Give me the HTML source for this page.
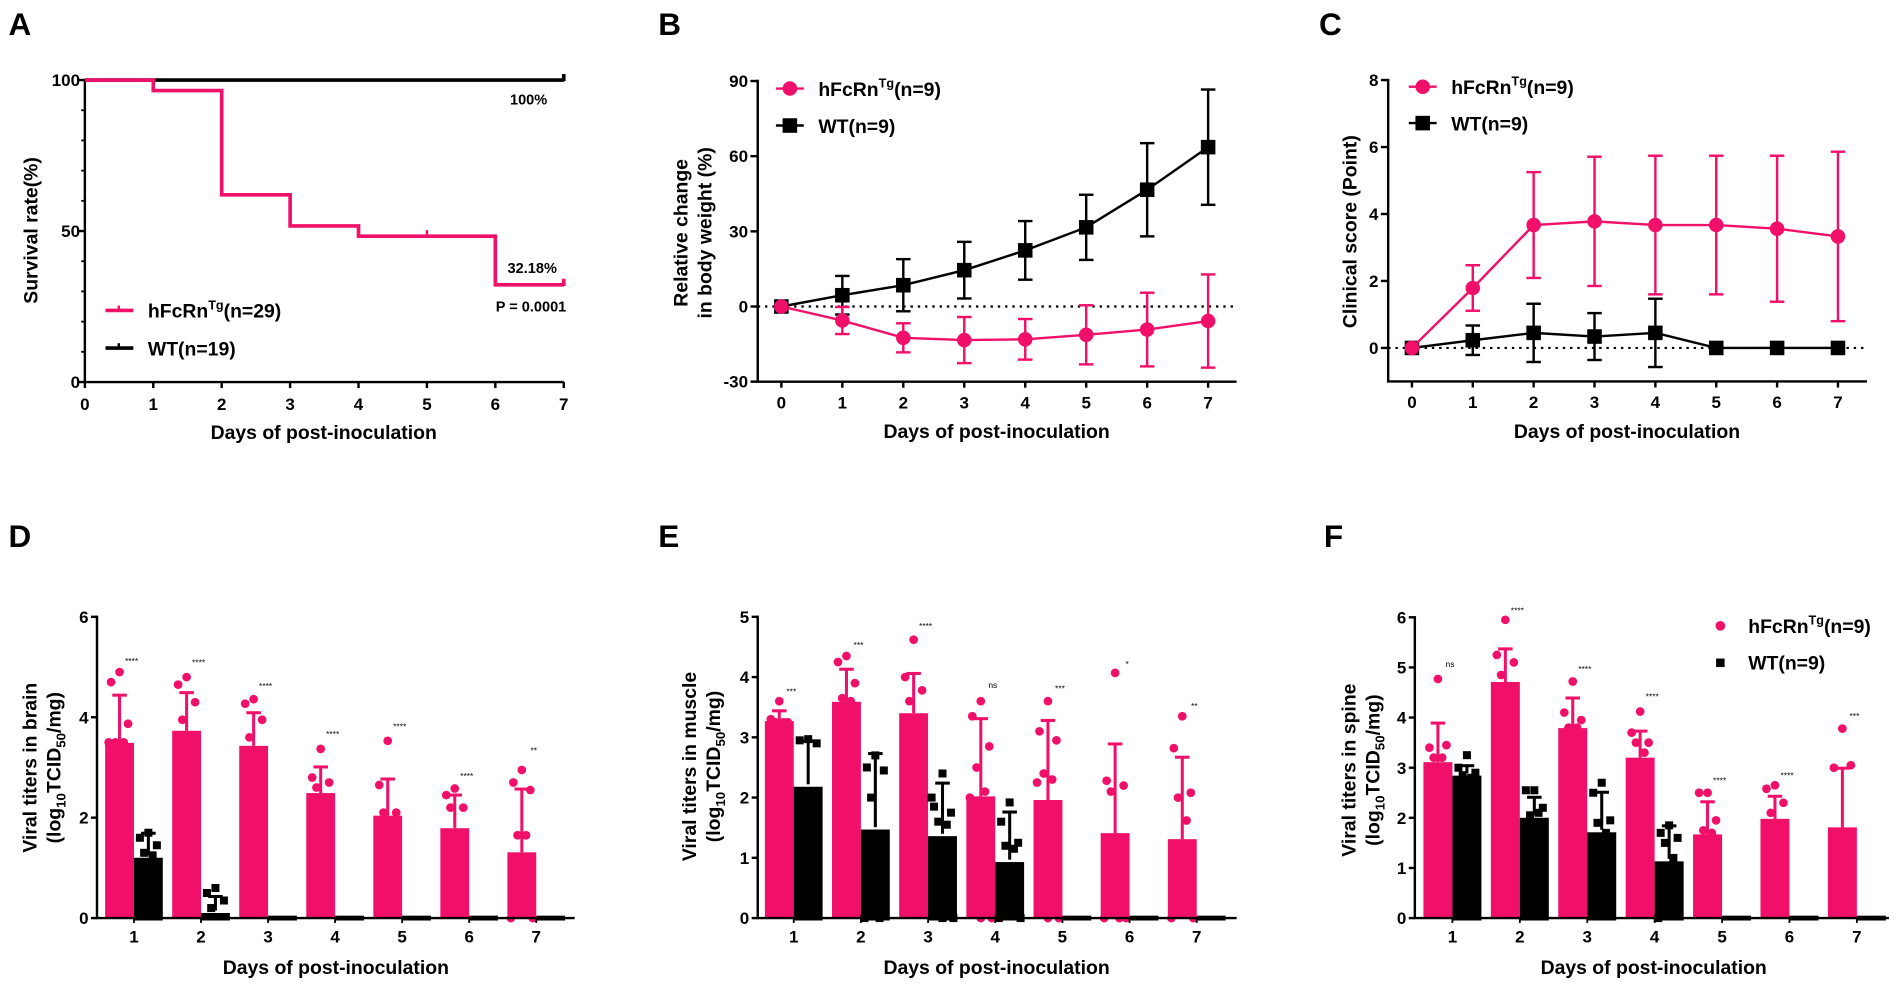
<!DOCTYPE html>
<html><head><meta charset="utf-8"><style>
html,body{margin:0;padding:0;background:#fff;}
svg{display:block;font-family:"Liberation Sans",Arial,sans-serif;font-weight:bold;}
</style></head><body>
<svg id="fig" width="1901" height="986" viewBox="0 0 1568 813" preserveAspectRatio="none" xmlns="http://www.w3.org/2000/svg"></svg>
<script>
// ===== Panel A data =====
const aDays = [0,1,2,3,4,5,6,7];
const aPinkSteps = [100,96.5,62,51.7,48.3,48.3,32.18];
const aWTSteps = [100,100,100,100,100,100,100];
const aYTicks = [0,50,100];
// ===== Panel B data =====
const bDays = [0,1,2,3,4,5,6,7];
const bWT = [0,4.5,8.5,14.5,22.4,31.6,46.6,63.6];
const bWTErr = [0,7.7,10.4,11.3,11.7,13,18.6,23];
const bPink = [0,-5.6,-12.5,-13.4,-13.1,-11.3,-9.2,-5.8];
const bPinkErr = [0,5.4,5.8,9.2,8.1,11.8,14.7,18.6];
const bYTicks = [-30,0,30,60,90];
// ===== Panel C data =====
const cDays = [0,1,2,3,4,5,6,7];
const cPink = [0,1.79,3.67,3.78,3.67,3.67,3.56,3.33];
const cPinkErr = [0,0.68,1.58,1.93,2.07,2.07,2.18,2.53];
const cWT = [0,0.23,0.45,0.34,0.45,0,0,0];
const cWTErr = [0,0.44,0.87,0.7,1.02,0,0,0];
const cYTicks = [0,2,4,6,8];
// ===== Panel D data =====
const dCats = ["1","2","3","4","5","6","7"];
const dPink = [3.49,3.73,3.43,2.49,2.04,1.79,1.31];
const dPinkSD = [0.95,0.76,0.66,0.52,0.73,0.66,1.26];
const dWT = [1.25,0.15,0,0,0,0,0];
const dWTSD = [0.44,0.28,0,0,0,0,0];
const dSig = ["****","****","****","****","****","****","**"];
const dSigY = [5.13,5.1,4.63,3.68,3.83,2.84,3.35];
const dPinkPts = [[4.9,4.7,3.87,3.5,3.5,3.5],[4.8,4.65,4.3,3.95],[4.36,4.27,3.95,3.6],[3.37,2.8,2.7,2.6],[3.53,2.65,2.1,2.1],[2.58,2.45,2.2,2.2],[2.95,2.7,2.55,1.65,1.65,0,0]];
const dWTPts = [[1.7,1.6,1.45,1.3,1.25],[0.6,0.5,0.35,0.2],[],[],[],[],[]];
const dYTicks = [0,2,4,6];
// ===== Panel E data =====
const eCats = ["1","2","3","4","5","6","7"];
const ePink = [3.27,3.59,3.4,2.02,1.96,1.41,1.31];
const ePinkSD = [0.17,0.54,0.66,1.29,1.32,1.48,1.36];
const eWT = [2.22,1.51,1.4,0.97,0,0,0];
const eWTSD = [0.72,1.22,0.84,0.79,0,0,0];
const eSig = ["***","***","****","ns","***","*","**"];
const eSigY = [3.77,4.54,4.86,3.88,3.82,4.23,3.53];
const ePinkPts = [[3.6,3.3,3.25,3.25,3.25],[4.35,4.25,3.9,3.65,3.6],[4.62,4.0,3.78,3.6],[3.6,3.35,2.85,2.5,2.1,2.0,0,0],[3.6,3.1,2.95,2.4,2.3,2.25,0,0],[4.07,2.28,2.2,2.1,0,0,0],[3.35,2.82,2.08,2.0,1.62,0,0]];
const eWTPts = [[2.97,2.95,2.9],[2.7,2.5,2.45,2.0,0,0],[2.4,1.85,1.75,1.6,1.55,2.0,0,0],[1.92,1.6,1.25,1.2,1.15,0,0],[],[],[]];
const eYTicks = [0,1,2,3,4,5];
// ===== Panel F data =====
const fCats = ["1","2","3","4","5","6","7"];
const fPink = [3.11,4.71,3.79,3.2,1.67,1.98,1.81];
const fPinkSD = [0.78,0.66,0.6,0.53,0.65,0.45,1.18];
const fWT = [2.89,2.05,1.76,1.18,0,0,0];
const fWTSD = [0.15,0.36,0.75,0.66,0,0,0];
const fSig = ["ns","****","****","****","****","****","***"];
const fSigY = [5.08,6.15,4.98,4.43,2.76,2.86,4.04];
const fPinkPts = [[4.77,3.4,3.45,3.2,3.2],[5.95,5.25,5.1,4.85],[4.72,4.1,3.95,3.8,3.8],[4.12,3.7,3.5,3.5,3.3],[2.5,2.5,1.95,1.75,1.7],[2.65,2.58,2.3,2.1],[3.78,3.0,3.05]];
const fWTPts = [[3.25,3.0,2.9,2.85,2.8],[2.55,2.55,2.2,2.05,2.1],[2.7,2.5,1.95,1.9,1.7],[1.85,1.7,1.6,1.5,1.2,0],[],[],[]];
const fYTicks = [0,1,2,3,4,5,6];

const PINK = "#f0106a";
const NS = "http://www.w3.org/2000/svg";
const svg = document.getElementById("fig");

function mk(tag, parent, attrs){
  const el = document.createElementNS(NS, tag);
  for (const k in attrs) el.setAttribute(k, attrs[k]);
  (parent||svg).appendChild(el);
  return el;
}
function txt(parent, x, y, s, size, anchor, name){
  const t = mk("text", parent, {x:x, y:y, "font-size":size, "text-anchor":anchor||"middle", fill:"#000"});
  t.textContent = s;
  
  
  return t;
}
function line(parent, x1,y1,x2,y2,color,w,name,dash){
  const l = mk("line", parent, {x1:x1,y1:y1,x2:x2,y2:y2,stroke:color,"stroke-width":w});
  if (dash) l.setAttribute("stroke-dasharray", dash);
  
  
  return l;
}
function group(name){
  const g = mk("g", svg, {});
  
  
  return g;
}
function panelLetter(g, x, y, s){
  txt(g, x, y, s, 26, "start", "panel-label-" + s.toLowerCase());
}
function rotTitle(g, x, y, s, size, name){
  const t = txt(g, x, y, s, size, "middle", name);
  t.setAttribute("transform", "rotate(-90 " + x + " " + y + ")");
  return t;
}
function rotTitleSub(g, x, y, name){
  const t = mk("text", g, {x:x, y:y, "font-size":16, "text-anchor":"middle", transform:"rotate(-90 "+x+" "+y+")"});
  
  
  const parts = [["(log",0],["10",1],["TCID",0],["50",1],["/mg)",0]];
  parts.forEach(p=>{
    const ts = mk("tspan", t, {});
    ts.textContent = p[0];
    if (p[1]) { ts.setAttribute("font-size", 11); ts.setAttribute("dy", 4); }
    else if (ts.previousSibling) { ts.setAttribute("dy", -4); }
  });
}
function legendText(g, x, y, label, sup, rest, size, name){
  const t = mk("text", g, {x:x, y:y, "font-size":size, "text-anchor":"start"});
  
  
  const a = mk("tspan", t, {}); a.textContent = label;
  if (sup){
    const b = mk("tspan", t, {"font-size": size*0.65, dy: -7}); b.textContent = sup;
    const c = mk("tspan", t, {dy: 7}); c.textContent = rest;
  }
}

// ================= Panel A =================
(function(){
  const g = group("panel-a-survival");
  panelLetter(g, 7, 29, "A");
  const x = d => 70 + d*(465-70)/7;
  const y = v => 315 - v*(315-66)/100;
  line(g, x(0), y(0), x(0), y(100)-1, "#000", 2, "y-axis");
  line(g, x(0)-1, y(0), x(7), y(0), "#000", 2, "x-axis");
  for (let v=10; v<100; v+=10){ line(g, x(0)-3, y(v), x(0), y(v), "#000", 1.5, "y-minor-tick"); }
  aYTicks.forEach(v=>{ line(g, x(0)-6, y(v), x(0), y(v), "#000", 2, "y-tick"); txt(g, x(0)-4, y(v)+5, String(v), 14, "end", "y-tick-label"); });
  aDays.forEach(d=>{ line(g, x(d), y(0), x(d), y(0)+5, "#000", 2, "x-tick"); txt(g, x(d), y(0)+23, String(d), 14, "middle", "x-tick-label"); });
  function steps(vals){
    let p = "M" + x(0) + "," + y(vals[0]);
    for (let i=0;i<vals.length;i++){
      p += " H" + x(i+1);
      if (i+1 < vals.length) p += " V" + y(vals[i+1]);
    }
    return p;
  }
  const w = mk("path", g, {d: steps(aWTSteps), fill:"none", stroke:"#000", "stroke-width":3});
  
  
  line(g, x(7), y(aWTSteps[6])-5, x(7), y(aWTSteps[6])+1, "#000", 3, "wt-censor-tick");
  const p = mk("path", g, {d: steps(aPinkSteps), fill:"none", stroke:PINK, "stroke-width":3});
  
  
  line(g, x(5), y(aPinkSteps[4])-5, x(5), y(aPinkSteps[4]), PINK, 2, "hfcrn-censor-tick");
  line(g, x(7), y(aPinkSteps[6])-5, x(7), y(aPinkSteps[6])+1, PINK, 3, "hfcrn-censor-tick");
  txt(g, 436, 86, "100%", 12, "middle", "wt-survival-annotation");
  txt(g, 439, 225, "32.18%", 12, "middle", "hfcrn-survival-annotation");
  txt(g, 438, 257, "P = 0.0001", 12, "middle", "p-value-annotation");
  line(g, 87, 256, 110, 256, PINK, 3, "legend-hfcrn-line");
  line(g, 98, 252, 98, 256, PINK, 2, "legend-hfcrn-tick");
  legendText(g, 122, 262, "hFcRn", "Tg", "(n=29)", 16, "legend-hfcrn-label");
  line(g, 87, 287, 110, 287, "#000", 3, "legend-wt-line");
  line(g, 98, 283, 98, 287, "#000", 2, "legend-wt-tick");
  legendText(g, 122, 293, "WT(n=19)", null, null, 16, "legend-wt-label");
  rotTitle(g, 31, 190, "Survival rate(%)", 16, "y-axis-title");
  txt(g, 267, 362, "Days of post-inoculation", 16, "middle", "x-axis-title");
})();

// ================= Line panels B, C =================
function linePanel(cfg){
  const g = group(cfg.name);
  panelLetter(g, cfg.letterX, 29, cfg.letter);
  const x = d => cfg.x0 + d*(cfg.x7-cfg.x0)/7;
  const y = v => cfg.yb - (v-cfg.ymin)*(cfg.yb-cfg.yt)/(cfg.ymax-cfg.ymin);
  line(g, cfg.ax, y(cfg.ymin), cfg.ax, y(cfg.ymax)-1, "#000", 2, "y-axis");
  line(g, cfg.ax-1, y(cfg.ymin), cfg.axEnd, y(cfg.ymin), "#000", 2, "x-axis");
  cfg.yTicks.forEach(v=>{ line(g, cfg.ax-6, y(v), cfg.ax, y(v), "#000", 2, "y-tick"); txt(g, cfg.ax-8, y(v)+5, String(v), 14, "end", "y-tick-label"); });
  cfg.days.forEach(d=>{ line(g, x(d), y(cfg.ymin), x(d), y(cfg.ymin)+5, "#000", 2, "x-tick"); txt(g, x(d), y(cfg.ymin)+22, String(d), 14, "middle", "x-tick-label"); });
  line(g, cfg.ax, y(0), cfg.axEnd, y(0), "#000", 1.8, "zero-reference-line", "2,4");
  function series(vals, errs, color, marker, nm){
    const sg = mk("g", g, {});
    
    
    vals.forEach((v,i)=>{
      if (errs[i] > 0){
        line(sg, x(cfg.days[i]), y(v+errs[i]), x(cfg.days[i]), y(v-errs[i]), color, 2, nm + "-error-bar");
        line(sg, x(cfg.days[i])-6, y(v+errs[i]), x(cfg.days[i])+6, y(v+errs[i]), color, 2, nm + "-error-cap");
        line(sg, x(cfg.days[i])-6, y(v-errs[i]), x(cfg.days[i])+6, y(v-errs[i]), color, 2, nm + "-error-cap");
      }
    });
    const pts = vals.map((v,i)=> x(cfg.days[i]) + "," + y(v)).join(" ");
    const pl = mk("polyline", sg, {points: pts, fill:"none", stroke:color, "stroke-width":2});
    
    
    vals.forEach((v,i)=>{
      let m;
      if (marker === "circle") m = mk("circle", sg, {cx:x(cfg.days[i]), cy:y(v), r:6, fill:color});
      else m = mk("rect", sg, {x:x(cfg.days[i])-6, y:y(v)-6, width:12, height:12, fill:color});
      
      
    });
  }
  series(cfg.wt, cfg.wtErr, "#000", "square", "wt");
  series(cfg.pink, cfg.pinkErr, PINK, "circle", "hfcrn");
  line(g, cfg.legX, cfg.legY1, cfg.legX+23, cfg.legY1, PINK, 2, "legend-hfcrn-line");
  const lc = mk("circle", g, {cx:cfg.legX+11.5, cy:cfg.legY1, r:6, fill:PINK});
  
  
  legendText(g, cfg.legX+35, cfg.legY1+6, "hFcRn", "Tg", "(n=9)", 16, "legend-hfcrn-label");
  line(g, cfg.legX, cfg.legY2, cfg.legX+23, cfg.legY2, "#000", 2, "legend-wt-line");
  const ls = mk("rect", g, {x:cfg.legX+5.5, y:cfg.legY2-6, width:12, height:12, fill:"#000"});
  
  
  legendText(g, cfg.legX+35, cfg.legY2+6, "WT(n=9)", null, null, 16, "legend-wt-label");
  cfg.yTitle.forEach((s,i)=> rotTitle(g, cfg.yTitleX[i], cfg.yTitleY, s, 16, "y-axis-title"));
  txt(g, cfg.xTitleX, 361, "Days of post-inoculation", 16, "middle", "x-axis-title");
}
linePanel({name:"panel-b-body-weight", letter:"B", letterX:543, x0:644.5, x7:996.5, ax:625, axEnd:1020, yt:66.8, yb:314.7, ymin:-30, ymax:90,
  yTicks:bYTicks, days:bDays, wt:bWT, wtErr:bWTErr, pink:bPink, pinkErr:bPinkErr,
  legX:640, legY1:73, legY2:103.5, yTitle:["Relative change","in body weight (%)"], yTitleX:[567,587], yTitleY:192, xTitleX:822});
linePanel({name:"panel-c-clinical-score", letter:"C", letterX:1088, x0:1164.6, x7:1516, ax:1145, axEnd:1540, yt:66, yb:314.5, ymin:-1, ymax:8,
  yTicks:cYTicks, days:cDays, wt:cWT, wtErr:cWTErr, pink:cPink, pinkErr:cPinkErr,
  legX:1162, legY1:71.5, legY2:101.5, yTitle:["Clinical score (Point)"], yTitleX:[1119], yTitleY:191, xTitleX:1342});

// ================= Bar panels D, E, F =================
function barPanel(cfg){
  const g = group(cfg.name);
  panelLetter(g, cfg.letterX, 451, cfg.letter);
  const cx = i => cfg.c1 + i*cfg.step;
  const y = v => cfg.yb - v*(cfg.yb-cfg.yt)/cfg.ymax;
  const bw = cfg.step*0.43;
  cfg.cats.forEach((c,i)=>{
    const bg = mk("g", g, {});
    
    
    // pink bar
    const pb = mk("rect", bg, {x:cx(i)-bw, y:y(cfg.pink[i]), width:bw, height:y(0)-y(cfg.pink[i]), fill:PINK});
    
    
    const pcx = cx(i)-bw/2;
    line(bg, pcx, y(cfg.pink[i]), pcx, y(cfg.pink[i]+cfg.pinkSD[i]), PINK, 2.5, "hfcrn-error-bar");
    line(bg, pcx-6, y(cfg.pink[i]+cfg.pinkSD[i]), pcx+6, y(cfg.pink[i]+cfg.pinkSD[i]), PINK, 2.5, "hfcrn-error-cap");
    // black bar
    const hb = Math.max(y(0)-y(cfg.wt[i]), 4);
    const kb = mk("rect", bg, {x:cx(i), y:y(0)-hb+2, width:bw, height:hb, fill:"#000"});
    
    
    const kcx = cx(i)+bw/2;
    if (cfg.wtSD[i] > 0){
      line(bg, kcx, y(cfg.wt[i]), kcx, y(cfg.wt[i]+cfg.wtSD[i]), "#000", 2.5, "wt-error-bar");
      line(bg, kcx-6, y(cfg.wt[i]+cfg.wtSD[i]), kcx+6, y(cfg.wt[i]+cfg.wtSD[i]), "#000", 2.5, "wt-error-cap");
    }
    const offs = [0,-7,7,-3.5,3.5,-9,9,0];
    cfg.pinkPts[i].forEach((v,j)=>{
      const d = mk("circle", bg, {cx:pcx+offs[j%offs.length], cy:y(v), r:3.6, fill:PINK});
      
      
    });
    cfg.wtPts[i].forEach((v,j)=>{
      const d = mk("rect", bg, {x:kcx+offs[j%offs.length]-3.3, y:y(v)-3.3, width:6.6, height:6.6, fill:"#000"});
      
      
    });
    const s = mk("text", bg, {x:cx(i)-2, y:y(cfg.sigY[i])+3, "font-size":7, "text-anchor":"middle", "font-weight":"normal"});
    s.textContent = cfg.sig[i];
    
    
    line(g, cx(i), y(0), cx(i), y(0)+4, "#000", 1.5, "x-tick");
    txt(g, cx(i), 777, c, 14, "middle", "x-tick-label");
  });
  line(g, cfg.ax, y(0), cfg.ax, y(cfg.ymax)-1, "#000", 2, "y-axis");
  line(g, cfg.ax-1, y(0), cfg.axEnd, y(0), "#000", 2, "x-axis");
  cfg.yTicks.forEach(v=>{ line(g, cfg.ax-5, y(v), cfg.ax, y(v), "#000", 2, "y-tick"); txt(g, cfg.ax-7, y(v)+5, String(v), 14, "end", "y-tick-label"); });
  rotTitle(g, cfg.yTitleX[0], cfg.yTitleY, cfg.yTitle, 16, "y-axis-title");
  rotTitleSub(g, cfg.yTitleX[1], cfg.yTitleY, "y-axis-title-units");
  txt(g, cfg.xTitleX, 803, "Days of post-inoculation", 16, "middle", "x-axis-title");
  if (cfg.legend){
    const c1 = mk("circle", g, {cx:1419, cy:516, r:4, fill:PINK});
    
    
    legendText(g, 1442, 522, "hFcRn", "Tg", "(n=9)", 16, "legend-hfcrn-label");
    const r1 = mk("rect", g, {x:1415.5, y:543, width:7, height:7, fill:"#000"});
    
    
    legendText(g, 1442, 552, "WT(n=9)", null, null, 16, "legend-wt-label");
  }
}
barPanel({name:"panel-d-brain-titers", letter:"D", letterX:7, c1:110.5, step:55.3, ax:80, axEnd:474, yt:508.6, yb:757, ymax:6,
  cats:dCats, pink:dPink, pinkSD:dPinkSD, wt:dWT, wtSD:dWTSD, sig:dSig, sigY:dSigY, pinkPts:dPinkPts, wtPts:dWTPts, yTicks:dYTicks,
  yTitle:"Viral titers in brain", yTitleX:[30,50], yTitleY:633, xTitleX:277});
barPanel({name:"panel-e-muscle-titers", letter:"E", letterX:543, c1:654.7, step:55.4, ax:625, axEnd:1020, yt:508.6, yb:757, ymax:5,
  cats:eCats, pink:ePink, pinkSD:ePinkSD, wt:eWT, wtSD:eWTSD, sig:eSig, sigY:eSigY, pinkPts:ePinkPts, wtPts:eWTPts, yTicks:eYTicks,
  yTitle:"Viral titers in muscle", yTitleX:[574,594], yTitleY:632, xTitleX:822});
barPanel({name:"panel-f-spine-titers", letter:"F", letterX:1092, c1:1198, step:55.6, ax:1167, axEnd:1558, yt:509, yb:757, ymax:6,
  cats:fCats, pink:fPink, pinkSD:fPinkSD, wt:fWT, wtSD:fWTSD, sig:fSig, sigY:fSigY, pinkPts:fPinkPts, wtPts:fWTPts, yTicks:fYTicks,
  yTitle:"Viral titers in spine", yTitleX:[1118,1138], yTitleY:635, xTitleX:1364, legend:true});
</script>
</body></html>
